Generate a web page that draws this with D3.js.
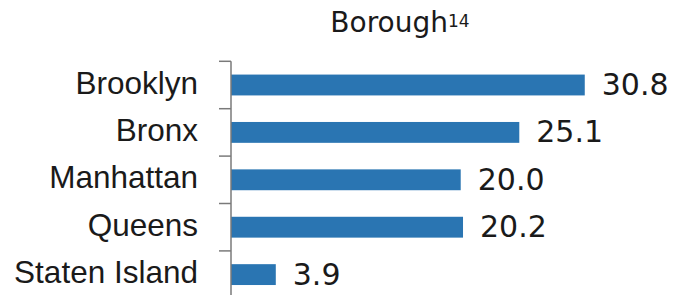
<!DOCTYPE html>
<html>
<head>
<meta charset="utf-8">
<script src="https://cdn.jsdelivr.net/npm/d3@7"></script>
<style>
  body { margin: 0; background: #fff; }
  svg { display: block; }
</style>
</head>
<body>
<svg id="chart"></svg>
<script>
// borough chart

var boroughs = ["Brooklyn", "Bronx", "Manhattan", "Queens", "Staten Island"];
var values = [30.8, 25.1, 20.0, 20.2, 3.9];
var title = "Borough";
var titleNote = "14";

var width = 674, height = 295;

var chart = d3.select("#chart").attr("width", width).attr("height", height);

var xscale = d3.scaleLinear()
    .domain([0, 35])
    .range([231, 633]);

var yscale = d3.scaleBand()
    .domain(boroughs)
    .range([61.3, 298.3])
    .paddingInner(0.56)
    .paddingOuter(0.28);

var half = yscale.step() * yscale.paddingInner() / 2;

// title
var t = chart.append("text")
    .attr("x", 400)
    .attr("y", 31.5)
    .attr("text-anchor", "middle")
    .style("font-family", "DejaVu Sans")
    .style("font-size", "28px")
    .style("fill", "#1a1a1a");
t.append("tspan").text(title);
t.append("tspan").attr("dy", -5).style("font-size", "17px").text(titleNote);

// bars
chart.selectAll("rect.bar").data(values)
  .enter().append("rect")
    .attr("class", "bar")
    .attr("x", xscale(0))
    .attr("y", function(d, i) { return yscale(boroughs[i]); })
    .attr("width", function(d) { return xscale(d) - xscale(0); })
    .attr("height", yscale.bandwidth())
    .style("fill", "#2a75b2");

// axis line with ticks between categories
var axis = chart.append("g").style("stroke", "#7a7a7a").style("stroke-width", 1.5);
axis.append("line")
    .attr("x1", xscale(0)).attr("x2", xscale(0))
    .attr("y1", yscale.range()[0]).attr("y2", yscale.range()[1]);
axis.selectAll("line.tick").data(boroughs)
  .enter().append("line")
    .attr("class", "tick")
    .attr("x1", xscale(0) - 12).attr("x2", xscale(0))
    .attr("y1", function(d) { return yscale(d) - half; })
    .attr("y2", function(d) { return yscale(d) - half; });

// category labels
chart.selectAll("text.cat").data(boroughs)
  .enter().append("text")
    .attr("class", "cat")
    .attr("x", 198)
    .attr("y", function(d) { return yscale(d) + yscale.bandwidth() / 2 + 8.5; })
    .attr("text-anchor", "end")
    .style("font-family", "Liberation Sans")
    .style("font-size", "31.5px")
    .style("fill", "#1a1a1a")
    .text(function(d) { return d; });

// value labels
chart.selectAll("text.val").data(values)
  .enter().append("text")
    .attr("class", "val")
    .attr("x", function(d) { return xscale(d) + 17; })
    .attr("y", function(d, i) { return yscale(boroughs[i]) + yscale.bandwidth() / 2 + 10; })
    .style("font-family", "DejaVu Sans")
    .style("font-size", "30px")
    .style("fill", "#1a1a1a")
    .text(function(d) { return d.toFixed(1); });
</script>
</body>
</html>
